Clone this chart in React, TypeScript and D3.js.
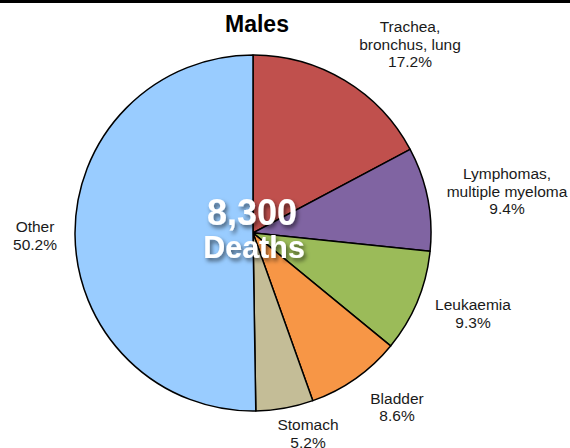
import React from 'react';
import * as d3 from 'd3';

// Share of male cancer deaths (%), clockwise from 12 o'clock
const CATEGORIES = ['Trachea, bronchus, lung', 'Lymphomas, multiple myeloma', 'Leukaemia', 'Bladder', 'Stomach', 'Other'];
const LABEL_LINES = [['Trachea,', 'bronchus, lung'], ['Lymphomas,', 'multiple myeloma'], ['Leukaemia'], ['Bladder'], ['Stomach'], ['Other']];
const SHARES = [17.2, 9.4, 9.3, 8.6, 5.2, 50.2];
const TOTAL_DEATHS = 8300;

const COLORS = ['#C0504D', '#8064A2', '#9BBB59', '#F79646', '#C4BD97', '#99CCFF'];

// label block offsets from pie centre (Excel-style hand placed labels)
const LABEL_OFFSET: Record<string, [number, number]> = {
  'Trachea, bronchus, lung': [157, -183.5],
  'Lymphomas, multiple myeloma': [254, -36.5],
  'Leukaemia': [220, 86],
  'Bladder': [144, 179.5],
  'Stomach': [55, 206],
  'Other': [-218, 8],
};

const W = 570;
const H = 448;
const FONT = '"Liberation Sans", Arial, Helvetica, sans-serif';

export default function App() {
  const cx = 253;
  const cy = 233;
  const radius = 178;
  const lineH = 17.9;

  const pie = d3.pie<number>().sort(null).value(d => d).startAngle(0).endAngle(2 * Math.PI);
  const arcs = pie(SHARES);
  const arc = d3.arc<d3.PieArcDatum<number>>().innerRadius(0).outerRadius(radius);

  return (
    <svg width={W} height={H} style={{ position: 'absolute', left: 0, top: 0, display: 'block' }} fontFamily={FONT}>
      <defs>
        <filter id="shadow" x="-20%" y="-20%" width="140%" height="160%">
          <feDropShadow dx="2" dy="3" stdDeviation="2.2" floodColor="#000" floodOpacity="0.55" />
        </filter>
      </defs>
      <rect x={0} y={0} width={W} height={H} fill="#fff" />
      <rect x={0} y={0} width={W} height={3} fill="#000" />

      <text x={257} y={32} textAnchor="middle" fontSize={23} fontWeight="bold" fill="#000">Males</text>

      <g transform={`translate(${cx},${cy})`}>
        {arcs.map((a, i) => (
          <path key={CATEGORIES[i]} d={arc(a) || ''} fill={COLORS[i]} stroke="#000" strokeWidth={1.5} strokeLinejoin="round" />
        ))}

        {arcs.map((a, i) => {
          const lines = [...LABEL_LINES[i], `${SHARES[i].toFixed(1)}%`];
          const [dx, dy] = LABEL_OFFSET[CATEGORIES[i]];
          const top = dy - ((lines.length - 1) * lineH) / 2;
          return (
            <text key={'l' + i} textAnchor="middle" fontSize={15.5} fill="#1a1a1a">
              {lines.map((s, j) => (
                <tspan key={j} x={dx} y={top + j * lineH}>{s}</tspan>
              ))}
            </text>
          );
        })}

        <g filter="url(#shadow)" fill="#fff" fontWeight="bold" textAnchor="middle">
          <text x={-1} y={-8} fontSize={36}>{d3.format(',')(TOTAL_DEATHS)}</text>
          <text x={1} y={25} fontSize={30.5}>Deaths</text>
        </g>
      </g>
    </svg>
  );
}
